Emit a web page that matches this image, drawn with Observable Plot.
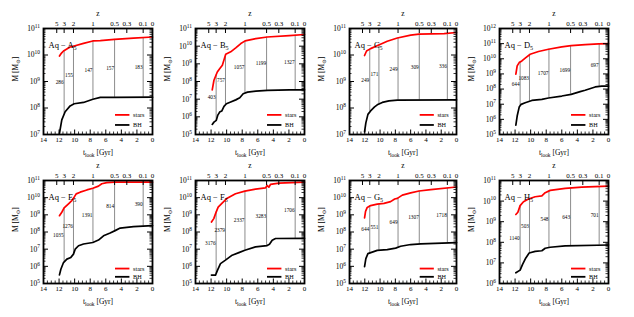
<!DOCTYPE html>
<html><head><meta charset="utf-8">
<script src="https://cdn.jsdelivr.net/npm/d3@7"></script>
<script src="https://cdn.jsdelivr.net/npm/@observablehq/plot@0.6"></script>
<style>
html,body{margin:0;padding:0;background:#fff;}
#wrap{position:relative;width:634px;height:317px;overflow:hidden;background:#fff;}
</style></head><body><div id="wrap"></div>
<script>
// ---- shared axes data ----
const xTickLabels = [14, 12, 10, 8, 6, 4, 2, 0];           // lookback time [Gyr]
const zTickLabels = ["5", "3", "2", "1", "0.5", "0.3", "0.1", "0"];
const zTickLookback = [12.3, 11.35, 10.15, 7.65, 4.87, 3.3, 1.2, 0];
const zLineLookback = [11.35, 10.15, 7.65, 4.87, 1.2];     // z = 3, 2, 1, 0.5, 0.1
const panelNames = ["A", "B", "C", "D", "E", "F", "G", "H"];
const panelYExp = [[7, 11], [5, 11], [7, 11], [5, 12], [5, 11], [5, 11], [5, 11], [6, 11]];

// ---- series: [lookback time Gyr, log10 M/Msun] ----
const starsA = [[11.95,9.96],[11.75,10.05],[11.43,10.15],[10.58,10.30],[10.06,10.34],[8.86,10.44],[7.66,10.53],[6.7,10.54],[4.88,10.59],[2.44,10.64],[0,10.68]];
const bhA = [[11.95,7.04],[11.65,7.55],[11.22,7.86],[10.58,8.08],[10.06,8.16],[8.86,8.21],[7.66,8.33],[6.7,8.40],[4.88,8.40],[0,8.41]];
const starsB = [[11.85,7.53],[11.63,8.07],[11.2,8.54],[10.9,8.72],[10.55,8.92],[10.12,9.54],[9.48,9.68],[8.83,9.90],[8.18,10.15],[7.62,10.30],[6.25,10.43],[4.78,10.52],[1.94,10.60],[0,10.66]];
const bhB = [[11.85,5.57],[11.63,5.70],[11.33,5.80],[11.15,6.08],[10.9,6.27],[10.63,6.33],[10.34,6.59],[10.03,6.74],[9.48,6.84],[8.83,6.96],[8.31,7.08],[7.88,7.31],[7.32,7.40],[6.25,7.46],[4.78,7.50],[1.94,7.53],[0,7.53]];
const starsC = [[12.03,9.98],[11.77,10.15],[11.24,10.24],[10.24,10.37],[9.06,10.52],[7.74,10.64],[5.99,10.75],[4.9,10.79],[1.62,10.81],[0,10.85]];
const bhC = [[12.03,7.1],[11.86,7.44],[11.59,7.76],[11.24,7.89],[10.72,8.04],[10.37,8.12],[9.71,8.21],[8.84,8.27],[7.74,8.30],[0,8.31]];
const starsD = [[11.9,8.98],[11.73,9.53],[11.47,9.75],[11.13,9.86],[10.62,10.08],[10.06,10.3],[8.99,10.48],[7.71,10.63],[6.0,10.79],[4.8,10.87],[3.0,10.94],[1.28,10.98],[0,11.0]];
const bhD = [[11.9,5.62],[11.73,6.22],[11.47,6.81],[11.22,6.99],[10.7,7.10],[9.85,7.25],[8.56,7.32],[7.71,7.41],[6.0,7.54],[4.8,7.65],[3.64,7.83],[3.0,7.92],[1.71,8.14],[0.86,8.2],[0,8.2]];
const starsE = [[11.95,8.95],[11.65,9.15],[11.35,9.40],[10.79,9.64],[10.36,9.83],[10.06,10.03],[9.8,10.22],[9.29,10.32],[8.43,10.45],[7.66,10.55],[6.94,10.67],[6.51,10.81],[5.87,10.88],[4.88,10.9],[0,10.9]];
const bhE = [[11.95,5.5],[11.77,5.83],[11.43,6.22],[11.0,6.42],[10.49,6.52],[10.15,6.71],[9.93,7.0],[9.5,7.2],[8.86,7.3],[7.66,7.39],[6.94,7.53],[6.29,7.78],[5.44,7.94],[4.8,8.08],[4.15,8.23],[2.44,8.31],[0,8.37]];
const starsF = [[11.95,8.58],[11.65,8.78],[11.35,9.16],[11.09,9.45],[10.58,9.68],[9.93,9.97],[8.86,10.23],[7.66,10.38],[6.29,10.5],[5.01,10.57],[4.8,10.71],[4.58,10.61],[4.37,10.77],[3.3,10.85],[0,10.9]];
const bhF = [[11.95,5.49],[11.43,5.49],[11.17,5.78],[10.79,6.16],[10.15,6.36],[9.29,6.65],[8.43,6.8],[7.66,6.94],[6.29,7.13],[4.8,7.21],[4.5,7.29],[4.15,7.52],[3.72,7.62],[0,7.63]];
const starsG = [[12.03,8.82],[11.9,9.2],[11.68,9.43],[11.24,9.54],[10.37,9.62],[9.49,9.67],[8.62,9.77],[8.09,9.92],[7.74,9.96],[7.09,10.15],[5.99,10.28],[4.9,10.39],[3.37,10.47],[0,10.62]];
const bhG = [[12.03,5.98],[11.86,6.45],[11.59,6.74],[11.03,6.83],[10.37,6.93],[9.06,6.97],[7.96,7.06],[7.31,7.17],[5.99,7.27],[4.68,7.31],[0,7.38]];
const starsH = [[11.9,9.35],[11.64,9.46],[11.35,9.78],[10.92,9.97],[10.28,10.1],[9.42,10.21],[8.56,10.25],[8.13,10.41],[7.49,10.52],[5.57,10.62],[3.43,10.68],[0,10.73]];
const bhH = [[11.9,6.52],[11.35,6.65],[11.05,6.92],[10.62,7.24],[10.19,7.48],[9.42,7.56],[8.56,7.59],[8.13,7.71],[7.49,7.76],[5.57,7.83],[0,7.87]];

// ---- ratio labels on the z lines ----
const ratioA = [286, 155, 147, 157, 183];
const ratioB = [403, 757, 1057, 1199, 1327];
const ratioC = [249, 171, 249, 309, 336];
const ratioD = [644, 1083, 1707, 1699, 697];
const ratioE = [1035, 1276, 1391, 814, 390];
const ratioF = [3176, 2379, 2337, 3283, 1706];
const ratioG = [644, 551, 649, 1307, 1718];
const ratioH = [1140, 503, 548, 643, 701];

const starsAll = [starsA, starsB, starsC, starsD, starsE, starsF, starsG, starsH];
const bhAll = [bhA, bhB, bhC, bhD, bhE, bhF, bhG, bhH];
const ratioAll = [ratioA, ratioB, ratioC, ratioD, ratioE, ratioF, ratioG, ratioH];

const FONT = "'Liberation Serif', 'DejaVu Serif', serif";
const zLabelOf = new Map(zTickLookback.map((t, i) => [t, zTickLabels[i]]));

function interpLog(arr, t) {
  for (let i = 0; i < arr.length - 1; i++) {
    const [t0, m0] = arr[i], [t1, m1] = arr[i + 1];
    if (t <= t0 && t >= t1) {
      const f = t0 === t1 ? 0 : (t0 - t) / (t0 - t1);
      return m0 + (m1 - m0) * f;
    }
  }
  return arr[arr.length - 1][1];
}

function rich(el) {
  const s = el.textContent;
  if (!/[_^]\{/.test(s)) return;
  const fs = parseFloat(getComputedStyle(el).fontSize) || 7;
  el.textContent = "";
  const re = /([_^])\{([^}]*)\}|([^_^]+)/g;
  let m, shift = 0;
  while ((m = re.exec(s))) {
    const ts = document.createElementNS("http://www.w3.org/2000/svg", "tspan");
    let target = 0;
    if (m[1] === "_") { target = 0.3; ts.setAttribute("font-size", (fs * 0.72) + "px"); ts.textContent = m[2]; }
    else if (m[1] === "^") { target = -0.42; ts.setAttribute("font-size", (fs * 0.72) + "px"); ts.textContent = m[2]; }
    else ts.textContent = m[3];
    const dy = (target - shift) * fs;
    if (dy) ts.setAttribute("dy", dy.toFixed(2));
    shift = target;
    el.appendChild(ts);
  }
}

const wrap = document.getElementById("wrap");
const colLeft = [0, 152, 306, 456];
const colFrameRight = [152, 304, 456, 608];

panelNames.forEach((name, k) => {
  const col = k % 4, row = Math.floor(k / 4);
  const [lo, hi] = panelYExp[k];
  const ml = 43, mr = 5, mt = 28, mb = row ? 34 : 24;
  const height = row ? 165 : 158;
  const width = colFrameRight[col] - colLeft[col] + mr;
  const fw = width - ml - mr, fh = height - mt - mb;
  const stars = starsAll[k].map(([t, m]) => ({t, m: 10 ** m}));
  const bh = bhAll[k].map(([t, m]) => ({t, m: 10 ** m}));
  const links = zLineLookback.map((t, i) => {
    const a = interpLog(bhAll[k], t), b = interpLog(starsAll[k], t);
    return {t, bh: 10 ** a, st: 10 ** b, mid: 10 ** ((a + b) / 2), label: String(ratioAll[k][i])};
  });
  const decades = d3.range(lo, hi + 1).map(e => 10 ** e);
  const minors = [];
  for (let e = lo; e < hi; e++) for (let j = 2; j <= 9; j++) minors.push(j * 10 ** e);
  const xMinor = d3.range(0, 14.01, 0.5).filter(v => v % 2 !== 0);
  const fr = row ? [0.145, 0.065] : [0.185, 0.09];
  const legend = [
    {label: "stars", color: "#ff0000", y: 10 ** (lo + (hi - lo) * fr[0])},
    {label: "BH", color: "#000000", y: 10 ** (lo + (hi - lo) * fr[1])}
  ];
  const svg = Plot.plot({
    width, height, marginLeft: ml, marginRight: mr, marginTop: mt, marginBottom: mb,
    x: {domain: [14, 0]},
    y: {type: "log", domain: [10 ** lo, 10 ** hi]},
    style: {fontFamily: FONT, fontSize: "7px", background: "transparent", overflow: "visible", color: "black"},
    marks: [
      Plot.ruleX(links, {x: "t", y1: "bh", y2: "st", stroke: "#8c8c8c", strokeWidth: 1}),
      Plot.text(links, {x: "t", y: "mid", text: "label", textAnchor: "end", dx: -0.5, fontSize: 5.3}),
      Plot.line(stars, {x: "t", y: "m", stroke: "#ff0000", strokeWidth: 1.7}),
      Plot.line(bh, {x: "t", y: "m", stroke: "#000000", strokeWidth: 1.7}),
      Plot.ruleY(legend, {y: "y", x1: 4.75, x2: 2.9, stroke: "color", strokeWidth: 1.8}),
      Plot.text(legend, {y: "y", x: 2.5, text: "label", textAnchor: "start", fontSize: 6.2}),
      // inward ticks
      Plot.ruleX(xTickLabels, {x: d => d, insetTop: fh - 4.5, stroke: "black", strokeWidth: 1}),
      Plot.ruleX(xMinor, {x: d => d, insetTop: fh - 2.5, stroke: "black", strokeWidth: 0.8}),
      Plot.ruleX(zTickLookback, {x: d => d, insetBottom: fh - 5, stroke: "black", strokeWidth: 1}),
      Plot.ruleY(decades, {y: d => d, insetRight: fw - 5, stroke: "black", strokeWidth: 1}),
      Plot.ruleY(minors, {y: d => d, insetRight: fw - 2.5, stroke: "black", strokeWidth: 0.8}),
      Plot.ruleY(decades, {y: d => d, insetLeft: fw - 5, stroke: "black", strokeWidth: 1}),
      Plot.ruleY(minors, {y: d => d, insetLeft: fw - 2.5, stroke: "black", strokeWidth: 0.8}),
      Plot.frame({stroke: "black", strokeWidth: 1.8}),
      Plot.axisX({anchor: "bottom", ticks: xTickLabels, tickSize: 0, tickPadding: 3, label: null, fontSize: 7}),
      Plot.axisX({anchor: "top", ticks: zTickLookback, tickFormat: d => zLabelOf.get(d), tickSize: 0, tickPadding: 3, label: null, fontSize: 7}),
      Plot.axisY({anchor: "left", ticks: decades, tickFormat: d => `10^{${Math.round(Math.log10(d))}}`, tickSize: 0, tickPadding: 3.5, label: null, fontSize: 7.5}),
      Plot.text(["z"], {text: d => d, frameAnchor: "top", dy: -18, fontSize: 7.5}),
      Plot.text(["t_{look} [Gyr]"], {text: d => d, frameAnchor: "bottom", dy: 20, fontSize: 7.5}),
      Plot.text(["M [M_{⊙}]"], {text: d => d, frameAnchor: "left", rotate: -90, dx: -28, fontSize: 7.5}),
      Plot.text([`Aq − ${name}_{5}`], {text: d => d, frameAnchor: "top-left", dx: 5, dy: 13, textAnchor: "start", fontSize: 8.5})
    ]
  });
  svg.style.position = "absolute";
  svg.style.left = colLeft[col] + "px";
  svg.style.top = (row ? 152 : 0) + "px";
  wrap.appendChild(svg);
  svg.querySelectorAll("text").forEach(rich);
});
</script></body></html>
